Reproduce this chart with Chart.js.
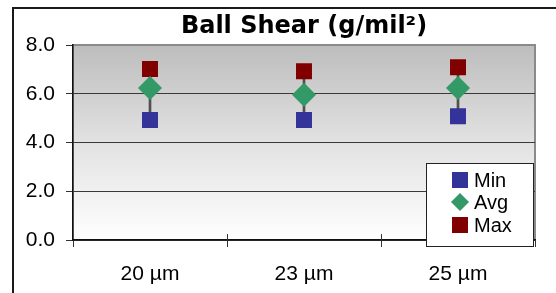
<!DOCTYPE html>
<html>
<head>
<meta charset="utf-8">
<script src="https://cdn.jsdelivr.net/npm/chart.js@4/dist/chart.umd.min.js"></script>
<style>
  html, body { margin: 0; padding: 0; background: #ffffff; }
  #wrap { width: 556px; height: 293px; position: relative; }
</style>
</head>
<body>
<div id="wrap"><canvas id="c" width="556" height="293"></canvas></div>
<script>
const titleText = 'Ball Shear (g/mil²)';
const categories = ['20 µm', '23 µm', '25 µm'];
const minValues = [4.92, 4.92, 5.08];
const avgValues = [6.24, 5.96, 6.24];
const maxValues = [7.02, 6.92, 7.09];
const seriesNames = ['Min', 'Avg', 'Max'];
const yMin = 0, yMax = 8, yStep = 2;

const colMin = '#333399', colAvg = '#339966', colMax = '#800000';
const FONT = "'Liberation Sans', Arial, sans-serif";

const backgroundPlugin = {
  id: 'bgFrame',
  beforeDraw(chart) {
    const { ctx, chartArea: a } = chart;
    ctx.save();
    ctx.strokeStyle = '#1a1a1a';
    ctx.lineWidth = 2;
    ctx.beginPath();
    ctx.moveTo(13, 293);
    ctx.lineTo(13, 8);
    ctx.lineTo(556, 8);
    ctx.stroke();
    const g = ctx.createLinearGradient(0, a.top, 0, a.bottom);
    g.addColorStop(0, '#bdbdbd');
    g.addColorStop(0.5, '#e2e2e2');
    g.addColorStop(1, '#ffffff');
    ctx.fillStyle = g;
    ctx.fillRect(a.left, a.top, a.right - a.left, a.bottom - a.top);
    ctx.strokeStyle = '#8a8a8a';
    ctx.lineWidth = 2;
    ctx.strokeRect(a.left, a.top, a.right - a.left, a.bottom - a.top);
    ctx.restore();
  }
};

const overlayPlugin = {
  id: 'overlay',
  afterDraw(chart) {
    const { ctx, chartArea: a } = chart;
    const xs = chart.scales.x;
    ctx.save();
    ctx.strokeStyle = '#333';
    ctx.lineWidth = 1;
    for (let i = 0; i < categories.length - 1; i++) {
      const px = Math.round((xs.getPixelForValue(i) + xs.getPixelForValue(i + 1)) / 2) + 0.5;
      ctx.beginPath();
      ctx.moveTo(px, a.bottom - 6);
      ctx.lineTo(px, a.bottom);
      ctx.stroke();
    }
    const bx = 426.5, by = 163.5, bw = 107, bh = 83;
    ctx.fillStyle = '#ffffff';
    ctx.fillRect(bx, by, bw, bh);
    ctx.strokeStyle = '#222';
    ctx.lineWidth = 1;
    ctx.strokeRect(bx, by, bw, bh);
    const rows = [180, 202, 225];
    const cols = [colMin, colAvg, colMax];
    ctx.font = '20px ' + FONT;
    ctx.textBaseline = 'middle';
    ctx.textAlign = 'left';
    for (let i = 0; i < 3; i++) {
      const cx = 460, cy = rows[i];
      ctx.fillStyle = cols[i];
      ctx.beginPath();
      if (i === 1) {
        ctx.moveTo(cx - 9, cy);
        ctx.lineTo(cx, cy - 9);
        ctx.lineTo(cx + 9, cy);
        ctx.lineTo(cx, cy + 9);
        ctx.closePath();
      } else {
        ctx.rect(cx - 8, cy - 8, 16, 16);
      }
      ctx.fill();
      ctx.fillStyle = '#000';
      ctx.fillText(seriesNames[i], 474, cy + 1);
    }
    ctx.restore();
  }
};

new Chart(document.getElementById('c'), {
  type: 'bar',
  data: {
    labels: categories,
    datasets: [
      {
        type: 'line', label: seriesNames[2], data: maxValues, showLine: false,
        pointStyle: 'rect', pointRadius: 11.3, pointHoverRadius: 11.3,
        backgroundColor: colMax, borderColor: colMax, borderWidth: 0, order: 1
      },
      {
        type: 'line', label: seriesNames[0], data: minValues, showLine: false,
        pointStyle: 'rect', pointRadius: 11.3, pointHoverRadius: 11.3,
        backgroundColor: colMin, borderColor: colMin, borderWidth: 0, order: 1
      },
      {
        type: 'line', label: seriesNames[1], data: avgValues, showLine: false,
        pointStyle: 'rectRot', pointRadius: 12, pointHoverRadius: 12,
        backgroundColor: colAvg, borderColor: colAvg, borderWidth: 0, order: 0
      },
      {
        type: 'bar', label: 'range', data: minValues.map((v, i) => [v, maxValues[i]]),
        backgroundColor: '#505050', barThickness: 2, order: 5
      }
    ]
  },
  options: {
    responsive: false,
    animation: false,
    events: [],
    layout: { padding: { left: 0, right: 21, top: 0, bottom: 0 } },
    plugins: {
      legend: { display: false },
      tooltip: { enabled: false },
      title: {
        display: true,
        text: titleText,
        fullSize: false,
        color: '#000',
        font: { family: "'DejaVu Sans', Verdana, sans-serif", size: 24, weight: 'bold', lineHeight: 1.2 },
        padding: { top: 12.6, bottom: 3.6 }
      }
    },
    scales: {
      x: {
        offset: true,
        afterFit(s) { s.height = 53; },
        grid: { offset: true, drawOnChartArea: false, drawTicks: true, tickLength: 7, color: '#333', lineWidth: 1 },
        border: { display: true, color: '#111', width: 1.5 },
        ticks: { color: '#000', font: { family: FONT, size: 21 }, padding: 15, maxRotation: 0 }
      },
      y: {
        min: yMin, max: yMax,
        afterFit(s) { s.width = 73; },
        grid: {
          drawOnChartArea: true, drawTicks: true, tickLength: 7,
          color: (c) => (c.tick && c.tick.value === yMax ? '#8a8a8a' : '#3a3a3a'),
          tickColor: '#333', lineWidth: 1
        },
        border: { display: true, color: '#111', width: 1.5 },
        ticks: {
          stepSize: yStep, color: '#000', padding: 11,
          font: { family: FONT, size: 21 },
          callback: (v) => Number(v).toFixed(1)
        }
      }
    }
  },
  plugins: [backgroundPlugin, overlayPlugin]
});
</script>
</body>
</html>
